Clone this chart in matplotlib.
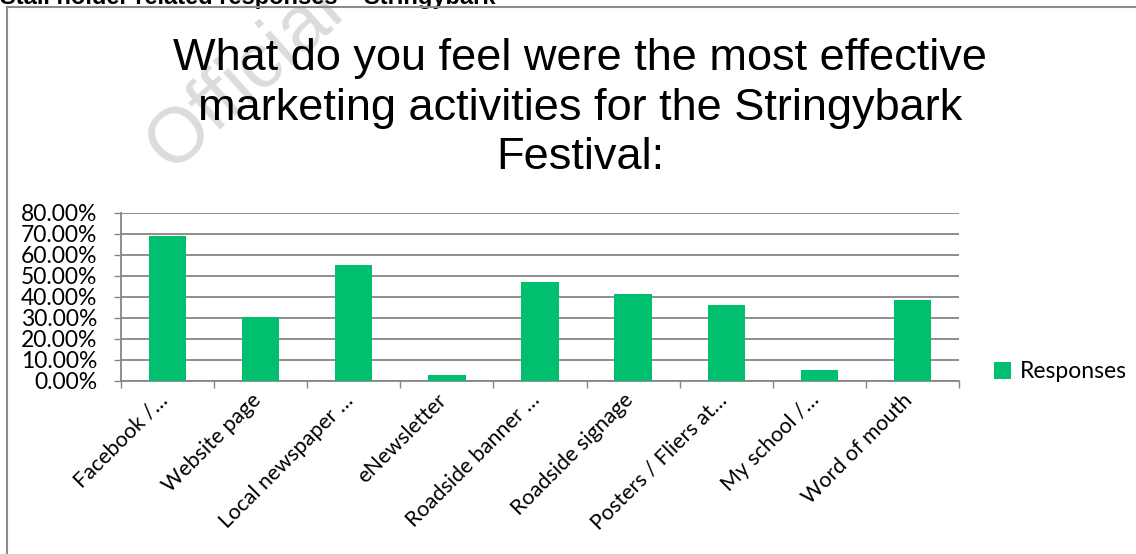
import matplotlib
matplotlib.use("Agg")
import matplotlib.pyplot as plt
import matplotlib.transforms as mtransforms
from matplotlib.lines import Line2D
from matplotlib.patches import Patch
import numpy as np

# Данные опроса
categories = [
    "Facebook /…",
    "Website page",
    "Local newspaper …",
    "eNewsletter",
    "Roadside banner …",
    "Roadside signage",
    "Posters / Fliers at…",
    "My school /…",
    "Word of mouth",
]
responses = [0.692, 0.303, 0.554, 0.024, 0.470, 0.414, 0.359, 0.052, 0.386]
y_ticks = [0.0, 0.1, 0.2, 0.3, 0.4, 0.5, 0.6, 0.7, 0.8]
y_tick_labels = ["0.00%", "10.00%", "20.00%", "30.00%", "40.00%",
                 "50.00%", "60.00%", "70.00%", "80.00%"]

W, H = 1136, 554
bar_color = "#00BF6F"
grid_color = "#868686"
label_font = "Lato"
label_size = 16.5

fig = plt.figure(figsize=(W / 100, H / 100), dpi=100)
fig.patch.set_facecolor("white")

# Водяной знак
fig.text(245 / W, 1 - 78 / H, "Official", rotation=42, fontsize=56,
         color="#dcdcdc", family="Liberation Sans",
         ha="center", va="center", zorder=0)

# Обрезанный заголовок страницы сверху
fig.text(0 / W, 1 - 4 / H, "Stall holder related responses – Stringybark",
         fontsize=17, fontweight="bold", family="Liberation Sans",
         ha="left", va="baseline", color="black")

# Рамка диаграммы
fig.add_artist(Line2D([7 / W, 7 / W], [1 - 7 / H, -0.1], color="#8c8c8c",
                      lw=1.5, transform=fig.transFigure, zorder=5))
fig.add_artist(Line2D([7 / W, 1.1], [1 - 7 / H, 1 - 7 / H], color="#8c8c8c",
                      lw=1.5, transform=fig.transFigure, zorder=5))

# Заголовок диаграммы
fig.text(580 / W, 1 - 38 / H,
         "What do you feel were the most effective\n"
         "marketing activities for the Stringybark\n"
         "Festival:",
         fontsize=32.5, family="Liberation Sans", ha="center", va="top",
         linespacing=1.27, zorder=3)

ax = fig.add_axes([121 / W, 1 - 380.5 / H, (959 - 121) / W, (380.5 - 213) / H])
x = np.arange(len(categories))
ax.bar(x, responses, width=0.4, color=bar_color, zorder=3)

ax.set_xlim(-0.5, len(categories) - 0.5)
ax.set_ylim(0, 0.8)

ax.set_yticks(y_ticks)
ax.set_yticklabels(y_tick_labels, family=label_font, fontsize=label_size)
ax.yaxis.grid(True, color=grid_color, lw=1.3, zorder=1)
ax.tick_params(axis="y", length=5, width=1, color=grid_color, pad=12)

ax.set_xticks(x)
ax.set_xticklabels(categories, rotation=45, ha="right", va="center",
                   rotation_mode="anchor", family=label_font, fontsize=15.5)
ax.set_xticks(np.arange(-0.5, len(categories)), minor=True)
ax.tick_params(axis="x", which="major", length=0, pad=12)
ax.tick_params(axis="x", which="minor", length=5, width=1, color=grid_color)

# Небольшое смещение подписей категорий влево
shift = mtransforms.ScaledTranslation(-3 / 100, 0, fig.dpi_scale_trans)
for lbl in ax.get_xticklabels():
    lbl.set_transform(lbl.get_transform() + shift)

for side in ["top", "right"]:
    ax.spines[side].set_visible(False)
for side in ["left", "bottom"]:
    ax.spines[side].set_color(grid_color)
    ax.spines[side].set_linewidth(1.3)
ax.set_facecolor("none")

legend_handle = Patch(facecolor=bar_color, edgecolor="none", label="Responses")
fig.legend(handles=[legend_handle], loc="center left",
           bbox_to_anchor=(994 / W, 1 - 372 / H), frameon=False,
           prop={"family": label_font, "size": label_size},
           handlelength=0.75, handleheight=0.75, handletextpad=0.4,
           borderaxespad=0, borderpad=0)

fig.savefig("out.png", dpi=100, facecolor="white")
